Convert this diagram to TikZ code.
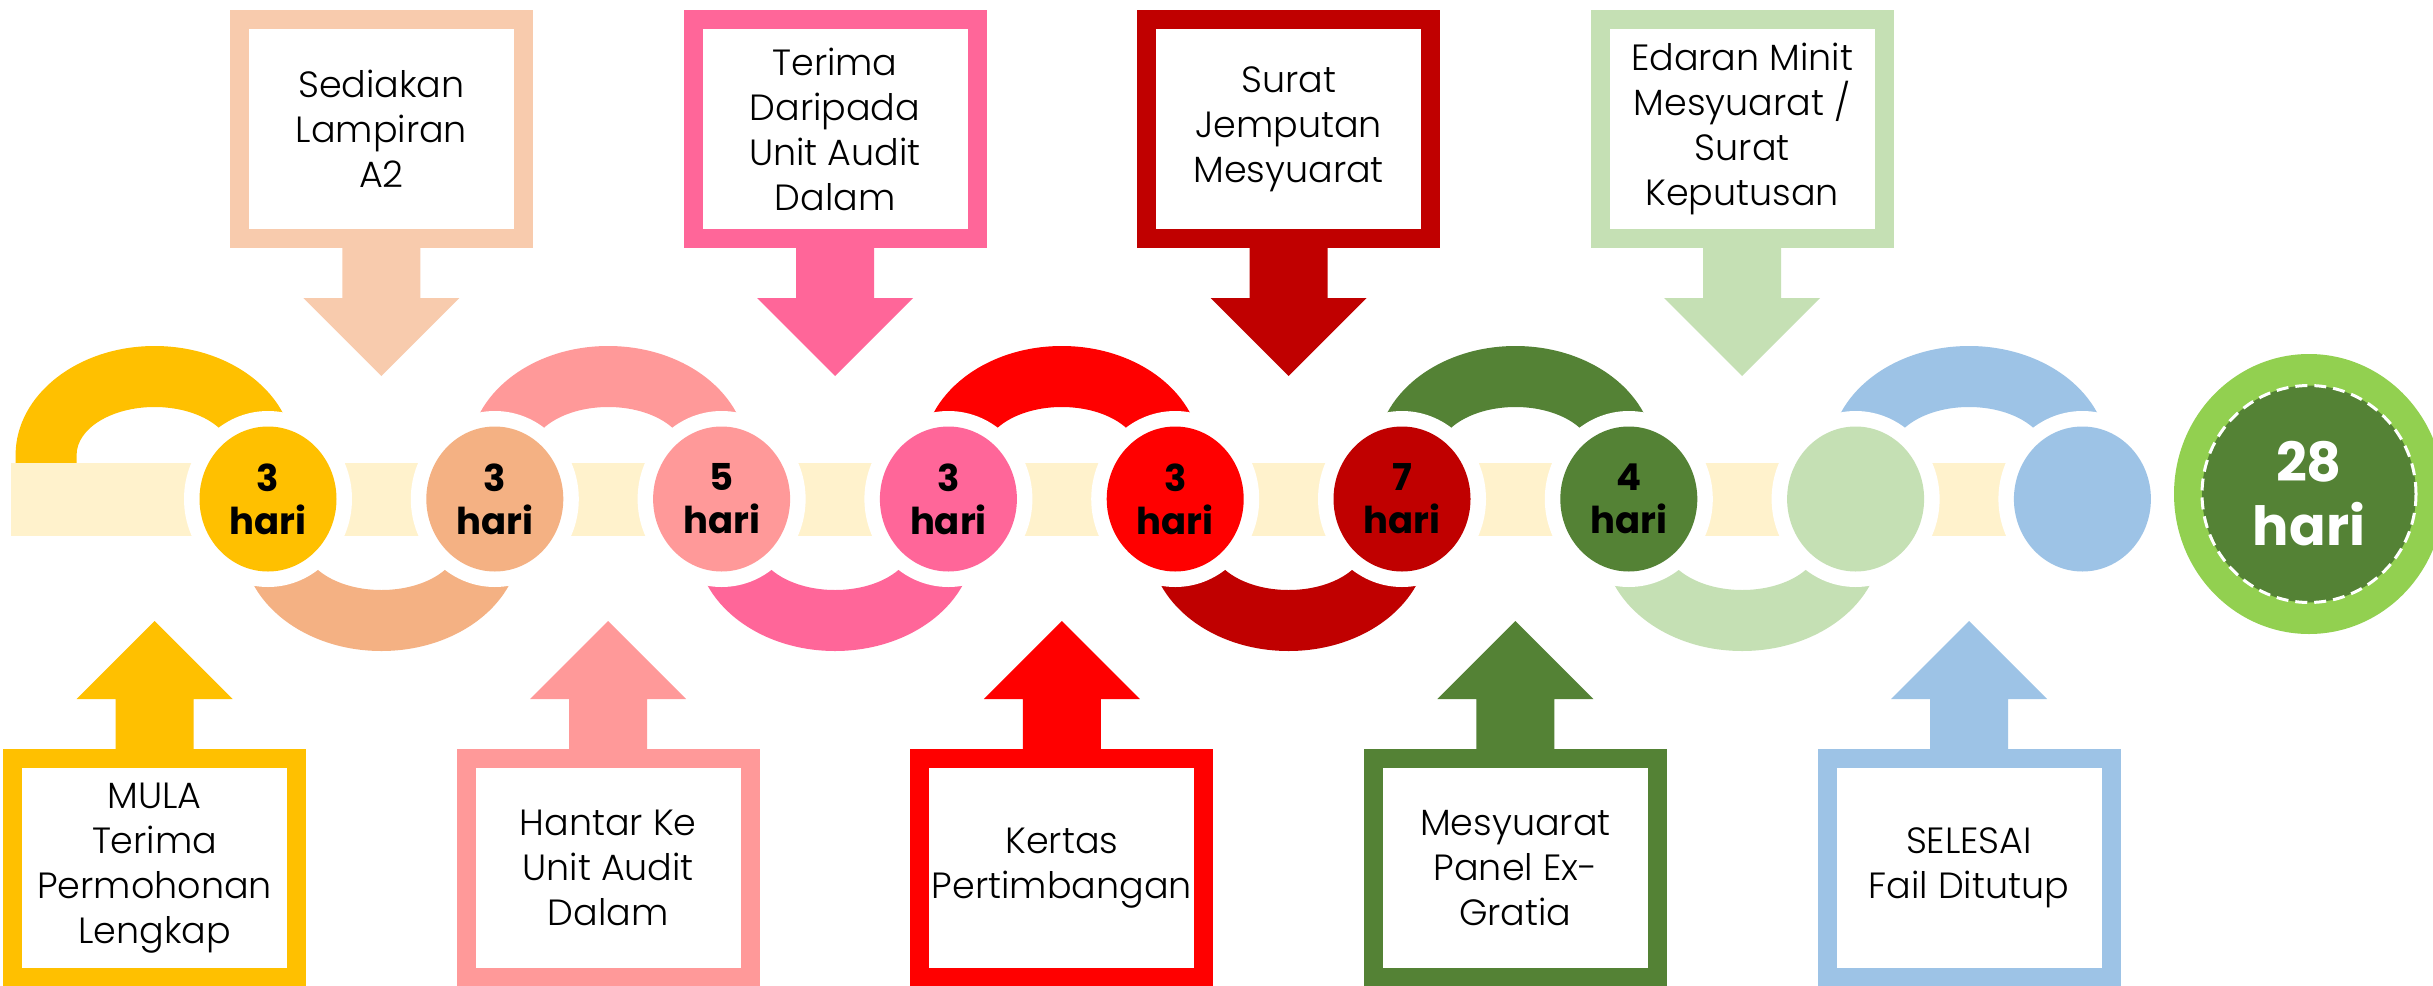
\documentclass[tikz,border=0pt]{standalone}
\usepackage{fontspec}
\setmainfont{Poppins}
\newfontfamily\lightfont{Poppins Light}
\usetikzlibrary{shapes.geometric}
\definecolor{cYel}{HTML}{FFC000}
\definecolor{cOra}{HTML}{F4B183}
\definecolor{cPea}{HTML}{F8CBAD}
\definecolor{cPin}{HTML}{FF9999}
\definecolor{cHot}{HTML}{FF6699}
\definecolor{cRed}{HTML}{FF0000}
\definecolor{cDrd}{HTML}{C00000}
\definecolor{cGrn}{HTML}{548235}
\definecolor{cLgr}{HTML}{C5E0B4}
\definecolor{cBlu}{HTML}{9DC3E6}
\definecolor{cBand}{HTML}{FFF2CC}
\definecolor{cLime}{HTML}{92D050}
\begin{document}
\begin{tikzpicture}[x=1pt,y=-1pt,
  dot/.style={ellipse,inner sep=0pt,minimum width=137pt,minimum height=145pt,align=center,text=black,font=\fontsize{37}{43}\selectfont\bfseries},
  boxtext/.style={align=center,text=black,inner sep=0pt,font=\lightfont\fontsize{36.5}{45}\selectfont},
  totaldot/.style={ellipse,inner sep=0pt,minimum width=214pt,minimum height=217pt,fill=cGrn,draw=white,line width=3pt,dash pattern=on 12pt off 7pt,text=white,align=center,font=\fontsize{54}{64}\selectfont\bfseries}]
\clip (0,0) rectangle (2433,985);
\fill[white] (0,0) rectangle (2433,985);
% rings
\foreach \k/\col/\up in {0/cYel/1,1/cOra/0,2/cPin/1,3/cHot/0,4/cRed/1,5/cDrd/0,6/cGrn/1,7/cLgr/0,8/cBlu/1}{
  \pgfmathsetmacro\cx{154.6+226.8*\k}
  \ifnum\up=1
    \fill[\col] (\cx+139,455) arc[start angle=0,end angle=-180,x radius=139,y radius=109] -- (\cx-139,480) -- (\cx-78,480) -- (\cx-78,455) arc[start angle=180,end angle=360,x radius=78,y radius=48] -- (\cx+78,480) -- (\cx+139,480) -- cycle;
  \else
    \fill[\col] (\cx+139,542) arc[start angle=0,end angle=180,x radius=139,y radius=109] -- (\cx-139,517) -- (\cx-78,517) -- (\cx-78,542) arc[start angle=180,end angle=0,x radius=78,y radius=48] -- (\cx+78,517) -- (\cx+139,517) -- cycle;
  \fi
}
% band
\fill[cBand] (11,463) rectangle (2082,536);
% circles
\foreach \i/\col/\txt in {1/cYel/{3\\hari},2/cOra/{3\\hari},3/cPin/{5\\hari},4/cHot/{3\\hari},5/cRed/{3\\hari},6/cDrd/{7\\hari},7/cGrn/{4\\hari},8/cLgr/{},9/cBlu/{}}{
  \pgfmathsetmacro\cx{268+226.8*(\i-1)}
  \fill[white] (\cx,499) ellipse[x radius=84,y radius=88];
  \node[dot,fill=\col] (c\i) at (\cx,499) {\txt};
}
% top callouts
\foreach \k/\col/\txt in {1/cPea/{Sediakan\\Lampiran\\A2},3/cHot/{Terima\\Daripada\\Unit Audit\\Dalam},5/cDrd/{Surat\\Jemputan\\Mesyuarat},7/cLgr/{Edaran Minit\\Mesyuarat /\\Surat\\Keputusan}}{
  \pgfmathsetmacro\cx{154.6+226.8*\k}
  \fill[\col] (\cx-151.5,10) rectangle (\cx+151.5,248);
  \fill[\col] (\cx-39,247) -- (\cx-39,298) -- (\cx-78,298) -- (\cx,376) -- (\cx+78,298) -- (\cx+39,298) -- (\cx+39,247) -- cycle;
  \fill[white] (\cx-132.5,29) rectangle (\cx+132.5,229);
  \node[boxtext] (t\k) at (\cx,129) {\txt};
}
% bottom callouts
\foreach \k/\col/\txt in {0/cYel/{MULA\\Terima\\Permohonan\\Lengkap},2/cPin/{Hantar Ke\\Unit Audit\\Dalam},4/cRed/{Kertas\\Pertimbangan},6/cGrn/{Mesyuarat\\Panel Ex-\\Gratia},8/cBlu/{SELESAI\\Fail Ditutup}}{
  \pgfmathsetmacro\cx{154.6+226.8*\k}
  \fill[\col] (\cx-151.5,749) rectangle (\cx+151.5,990);
  \fill[\col] (\cx-39,750) -- (\cx-39,699) -- (\cx-78,699) -- (\cx,621) -- (\cx+78,699) -- (\cx+39,699) -- (\cx+39,750) -- cycle;
  \fill[white] (\cx-132.5,768) rectangle (\cx+132.5,968);
  \node[boxtext] (b\k) at (\cx,868) {\txt};
}
% total
\fill[cLime] (2309,494) ellipse[x radius=135,y radius=140];
\node[totaldot] (total) at (2309,494) {28\\hari};
\end{tikzpicture}
\end{document}
